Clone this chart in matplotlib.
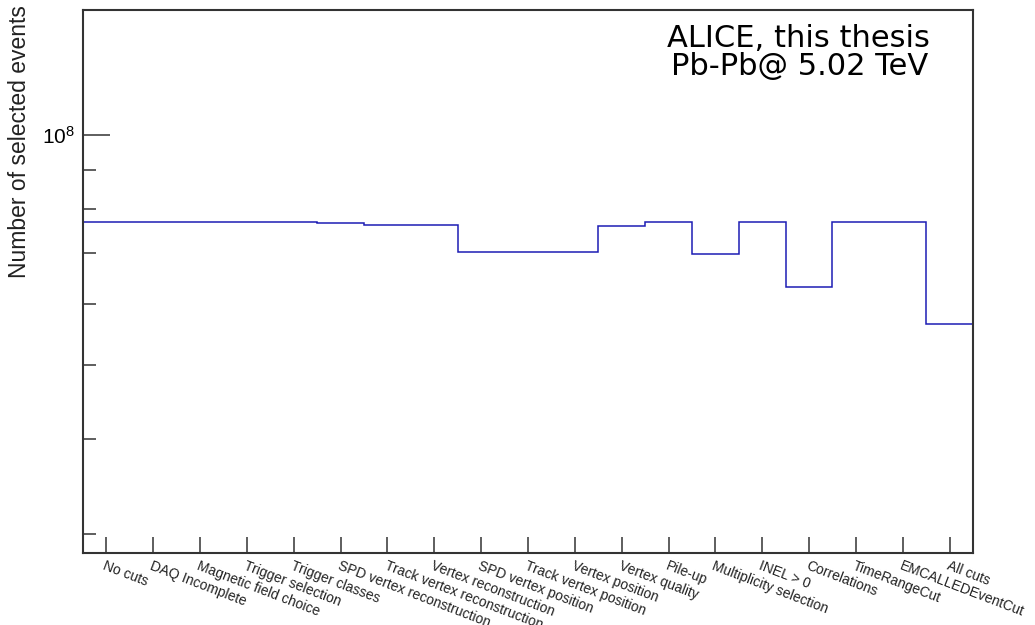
import numpy as np
import matplotlib
matplotlib.use("Agg")
import matplotlib.pyplot as plt
from matplotlib.ticker import FixedLocator, LogLocator, NullFormatter, LogFormatterSciNotation

# cut-flow: number of events surviving each selection step
cut_names = [
    "No cuts", "DAQ Incomplete", "Magnetic field choice", "Trigger selection",
    "Trigger classes", "SPD vertex reconstruction", "Track vertex reconstruction",
    "Vertex reconstruction", "SPD vertex position", "Track vertex position",
    "Vertex position", "Vertex quality", "Pile-up", "Multiplicity selection",
    "INEL > 0", "Correlations", "TimeRangeCut", "EMCALLEDEventCut", "All cuts",
]
n_events = [
    7.68e7, 7.68e7, 7.68e7, 7.68e7, 7.68e7, 7.66e7, 7.62e7, 7.62e7,
    7.03e7, 7.03e7, 7.03e7, 7.59e7, 7.68e7, 6.99e7, 7.68e7, 6.32e7,
    7.68e7, 7.68e7, 5.66e7,
]
y_min, y_max = 2.833e7, 1.456e8

plt.rcParams["font.family"] = ["Liberation Sans", "DejaVu Sans"]
plt.rcParams["mathtext.fontset"] = "custom"
plt.rcParams["mathtext.rm"] = "Liberation Sans"
plt.rcParams["mathtext.it"] = "Liberation Sans:italic"

W, H = 1035, 625
fig = plt.figure(figsize=(W / 100, H / 100), dpi=100)
ax = fig.add_axes([83 / W, 1 - 553.3 / H, (973 - 83) / W, (553.3 - 10) / H])

edges = np.arange(len(n_events) + 1)
ax.stairs(n_events, edges, color="#1c1cb4", linewidth=1.1, baseline=None)

ax.set_yscale("log")
ax.set_ylim(y_min, y_max)
ax.set_xlim(0, len(n_events))

# y axis: ROOT style ticks pointing inwards
ax.yaxis.set_major_locator(LogLocator(base=10, numticks=5))
ax.yaxis.set_major_formatter(LogFormatterSciNotation())
ax.yaxis.set_minor_locator(LogLocator(base=10, subs=np.arange(2, 10), numticks=20))
ax.yaxis.set_minor_formatter(NullFormatter())
ax.tick_params(axis="y", which="major", direction="in", length=19.5, width=1.1,
               color="#333333", labelsize=15, pad=6)
ax.tick_params(axis="y", which="minor", direction="in", length=9.4, width=1.1,
               color="#333333")

# x axis: one labelled tick per bin centre
centres = edges[:-1] + 0.5
ax.xaxis.set_major_locator(FixedLocator(centres))
ax.set_xticklabels(cut_names, rotation=-21, ha="left", va="top",
                   rotation_mode="anchor", fontsize=10)
ax.tick_params(axis="x", which="major", direction="in", length=11.5, width=1.1,
               color="#333333", pad=4)
ax.tick_params(axis="x", which="minor", bottom=False)
for lbl in ax.get_xticklabels():
    lbl.set_color("#222222")

for sp in ax.spines.values():
    sp.set_linewidth(1.5)
    sp.set_color("#333333")

fig.text(20 / W, 1 - 5 / H, "Number of selected events", rotation=90,
         ha="center", va="top", fontsize=16.5, color="#222222")

fig.text(930 / W, 1 - 47 / H, "ALICE, this thesis", ha="right", va="baseline",
         fontsize=22, family="DejaVu Sans")
fig.text(928 / W, 1 - 75 / H, "Pb-Pb@ 5.02 TeV", ha="right", va="baseline",
         fontsize=22, family="DejaVu Sans")

fig.savefig("out.png", dpi=100)
